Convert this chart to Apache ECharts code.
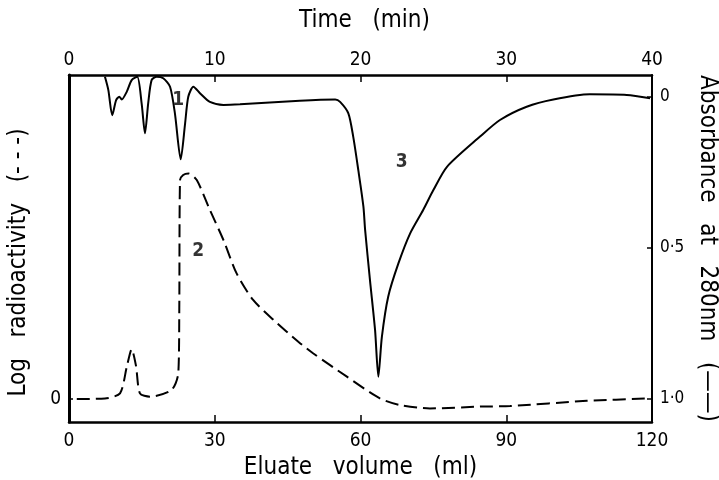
<!DOCTYPE html>
<html>
<head>
<meta charset="utf-8">
<script src="https://cdn.jsdelivr.net/npm/echarts@6/dist/echarts.min.js"></script>
<style>html,body{margin:0;padding:0;background:#fff;}#chart{width:719px;height:480px;}</style>
</head>
<body>
<div id="chart"></div>
<script>
// Absorbance at 280 nm (solid line) vs eluate volume (ml)
const volumeSolid = [7.4, 8.1, 8.9, 9.7, 10.35, 10.85, 11.9, 12.9, 14.05, 14.95, 15.64, 16.3, 17.0, 18.05, 19.4, 20.8, 21.8, 22.99, 23.9, 24.55, 25.6, 27.0, 29.0, 31.8, 35.2, 47.5, 54.8, 55.8, 57.5, 58.5, 59.55, 60.6, 60.95, 61.95, 63.0, 63.67, 64.4, 65.7, 67.8, 70.2, 72.9, 75.0, 77.8, 84.6, 88.7, 94.2, 99.7, 107.2, 114.8, 119.6];
const absorbance = [-0.067, -0.023, 0.060, 0.010, -0.001, 0.008, -0.018, -0.056, -0.067, 0.021, 0.120, 0.021, -0.056, -0.067, -0.062, -0.034, 0.054, 0.206, 0.087, -0.001, -0.034, -0.012, 0.016, 0.026, 0.024, 0.012, 0.008, 0.016, 0.054, 0.131, 0.242, 0.363, 0.440, 0.606, 0.772, 0.926, 0.794, 0.661, 0.551, 0.452, 0.374, 0.308, 0.231, 0.131, 0.076, 0.032, 0.008, -0.009, -0.007, 0.004];

// Log radioactivity (dashed line) vs eluate volume (ml)
const volumeDashed = [1.6, 7.4, 10.5, 11.9, 12.9, 13.8, 14.6, 16.7, 21.1, 22.5, 22.7, 22.85, 23.5, 24.6, 26.3, 29.0, 31.8, 34.5, 37.9, 42.1, 47.2, 50.3, 57.2, 64.0, 68.1, 74.3, 84.6, 90.8, 106.6, 119.6];
const radioactivity = [0.0, 0.002, 0.019, 0.107, 0.165, 0.109, 0.019, 0.008, 0.030, 0.086, 0.30, 0.725, 0.742, 0.747, 0.725, 0.626, 0.526, 0.416, 0.328, 0.262, 0.190, 0.151, 0.074, 0.002, -0.020, -0.031, -0.025, -0.023, -0.006, 0.002];

// Peak annotations (volume, absorbance-axis value)
const peakNames = ['1', '2', '3'];
const peakVolume = [22.5, 26.6, 68.5];
const peakLevel = [0.01, 0.509, 0.214];

// Axis ticks
const volumeTicks = [0, 30, 60, 90, 120];
const timeTicks = [0, 10, 20, 30, 40];
const absorbanceTicks = [0, 0.5, 1.0];
const radioTicks = [0];

const FONT = '"DejaVu Sans Condensed", "DejaVu Sans", sans-serif';
const chart = echarts.init(document.getElementById('chart'), null, {renderer: 'canvas'});

const lineStyleAxis = {color: '#000', width: 2.5};

chart.setOption({
  animation: false,
  backgroundColor: '#fff',
  grid: {left: 69, right: 67, top: 75, bottom: 58, containLabel: false, outerBoundsMode: 'none'},
  xAxis: [
    {
      type: 'value', position: 'bottom', min: 0, max: 120, interval: 30,
      axisLine: {show: true, onZero: false, lineStyle: lineStyleAxis},
      axisTick: {show: true, inside: true, length: 7, lineStyle: {color: '#000', width: 1.5}, customValues: [30, 60, 90]},
      axisLabel: {color: '#000', fontSize: 19, fontFamily: FONT, margin: 10, customValues: volumeTicks},
      splitLine: {show: false},
      name: 'Eluate   volume   (ml)', nameLocation: 'middle', nameGap: 33,
      nameTextStyle: {color: '#000', fontSize: 24, fontFamily: FONT}
    },
    {
      type: 'value', position: 'top', min: 0, max: 40, interval: 10,
      axisLine: {show: true, onZero: false, lineStyle: lineStyleAxis},
      axisTick: {show: true, inside: true, length: 7, lineStyle: {color: '#000', width: 1.5}, customValues: [10, 20, 30]},
      axisLabel: {color: '#000', fontSize: 19, fontFamily: FONT, margin: 5, customValues: timeTicks},
      splitLine: {show: false},
      name: 'Time   (min)', nameLocation: 'middle', nameGap: 42,
      nameTextStyle: {color: '#000', fontSize: 24, fontFamily: FONT, padding: [0, 0, 0, 8]}
    }
  ],
  yAxis: [
    {
      type: 'value', position: 'left', min: -0.076, max: 1.073,
      axisLine: {show: true, onZero: false, lineStyle: {color: '#000', width: 3}},
      axisTick: {show: true, inside: true, length: 4, lineStyle: {color: '#000', width: 1.5}, customValues: radioTicks},
      axisLabel: {color: '#000', fontSize: 19, fontFamily: FONT, margin: 8, customValues: radioTicks},
      splitLine: {show: false},
      name: 'Log   radioactivity   (- - -)', nameLocation: 'middle', nameGap: 38, nameRotate: 90,
      nameTextStyle: {color: '#000', fontSize: 24, fontFamily: FONT, padding: [0, 28, 0, 0]}
    },
    {
      type: 'value', position: 'right', inverse: true, min: -0.073, max: 1.076,
      axisLine: {show: true, onZero: false, lineStyle: {color: '#000', width: 2}},
      axisTick: {show: true, inside: true, length: 5, lineStyle: {color: '#000', width: 1.5}, customValues: absorbanceTicks},
      axisLabel: {color: '#000', fontSize: 17, fontFamily: FONT, margin: 8, customValues: absorbanceTicks,
        formatter: v => v === 0 ? '0' : v.toFixed(1).replace('.', '·')},
      splitLine: {show: false},
      name: 'Absorbance   at   280nm   (——)', nameLocation: 'middle', nameGap: 35, nameRotate: -90,
      nameTextStyle: {color: '#000', fontSize: 24, fontFamily: FONT}
    }
  ],
  series: [
    {
      type: 'line', name: 'Absorbance', xAxisIndex: 0, yAxisIndex: 1,
      data: volumeSolid.map((v, i) => [v, absorbance[i]]),
      showSymbol: false, smooth: 0.25,
      lineStyle: {color: '#000', width: 2}
    },
    {
      type: 'line', name: 'Radioactivity', xAxisIndex: 0, yAxisIndex: 0,
      data: volumeDashed.map((v, i) => [v, radioactivity[i]]),
      showSymbol: false, smooth: 0.25,
      lineStyle: {color: '#000', width: 2, type: [13, 6]}
    },
    {
      type: 'scatter', xAxisIndex: 0, yAxisIndex: 1, symbolSize: 0,
      data: peakNames.map((n, i) => ({value: [peakVolume[i], peakLevel[i]], name: n})),
      label: {show: true, position: 'inside', formatter: p => p.name, color: '#000', fontSize: 19, fontFamily: FONT, fontWeight: 'bold'}
    }
  ]
});
</script>
</body>
</html>
